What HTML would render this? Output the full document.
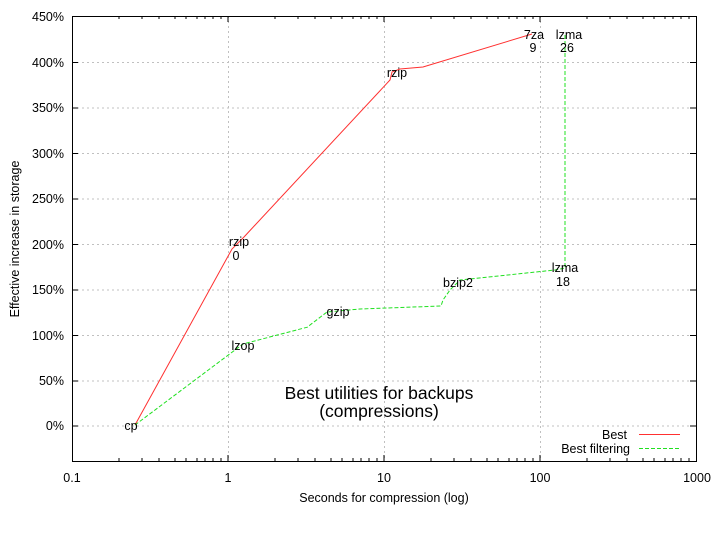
<!DOCTYPE html>
<html><head><style>body{margin:0;background:#fff}</style></head><body>
<svg width="720" height="529" xmlns="http://www.w3.org/2000/svg" font-family="Liberation Sans, sans-serif" font-size="12.5">
<rect width="720" height="529" fill="#fff"/>
<g stroke="#c0c0c0" stroke-dasharray="2,3" stroke-width="1">
<line x1="72" x2="696" y1="62.5" y2="62.5"/><line x1="72" x2="696" y1="108" y2="108"/><line x1="72" x2="696" y1="153.5" y2="153.5"/><line x1="72" x2="696" y1="199" y2="199"/><line x1="72" x2="696" y1="244.5" y2="244.5"/><line x1="72" x2="696" y1="290" y2="290"/><line x1="72" x2="696" y1="335.5" y2="335.5"/><line x1="72" x2="696" y1="381" y2="381"/><line x1="72" x2="696" y1="426" y2="426"/>
<line x1="228.5" x2="228.5" y1="16" y2="461"/><line x1="384.5" x2="384.5" y1="16" y2="461"/><line x1="540.5" x2="540.5" y1="16" y2="461"/>
</g>
<rect x="72.5" y="16.5" width="624" height="445" fill="none" stroke="#000"/>
<g text-anchor="end">
<text x="64" y="21">450%</text><text x="64" y="67">400%</text><text x="64" y="112">350%</text><text x="64" y="158">300%</text><text x="64" y="203">250%</text><text x="64" y="249">200%</text><text x="64" y="294">150%</text><text x="64" y="340">100%</text><text x="64" y="385">50%</text><text x="64" y="430">0%</text>
</g>
<g text-anchor="middle">
<text x="72" y="482">0.1</text><text x="228" y="482">1</text><text x="384" y="482">10</text><text x="540" y="482">100</text><text x="697" y="482">1000</text>
<text x="384" y="502">Seconds for compression (log)</text>
<text transform="translate(19,239) rotate(-90)">Effective increase in storage</text>
</g>
<polyline fill="none" stroke="#ff3030" stroke-width="1" points="135,425 232,249 244,237 390,80 392,72 400,69 423,67 532,34"/>
<polyline fill="none" stroke="#20e020" stroke-width="1" stroke-dasharray="4,2" points="135,425 243,344 308,327 310,325 327,312 360,309 441,306 443,300 450,290 460,280 555,270 565,268 565,34"/>
<g text-anchor="middle">
<text x="131" y="430">cp</text><text x="239" y="246">rzip</text><text x="236" y="260">0</text><text x="243" y="350">lzop</text><text x="338" y="316">gzip</text><text x="397" y="77">rzip</text><text x="458" y="287">bzip2</text><text x="565" y="272">lzma</text><text x="563" y="286">18</text><text x="534" y="39">7za</text><text x="533" y="52">9</text><text x="569" y="39">lzma</text><text x="567" y="52">26</text>
<text x="379" y="399" font-size="17.5">Best utilities for backups</text><text x="379" y="417" font-size="17.5">(compressions)</text>
</g>
<g text-anchor="end"><text x="627" y="439">Best</text><text x="630" y="453">Best filtering</text></g>
<line x1="639" x2="680" y1="434.5" y2="434.5" stroke="#ff3030"/>
<line x1="639" x2="680" y1="448.5" y2="448.5" stroke="#20e020" stroke-dasharray="4,2"/>
<path stroke="#000" fill="none" d="
M119,461v-3M142,461v-3M159,461v-3M175,461v-3M186,461v-3M197,461v-3M205,461v-3M213,461v-3M221,461v-3M228,461v-6
M275,461v-3M298,461v-3M315,461v-3M331,461v-3M342,461v-3M353,461v-3M361,461v-3M369,461v-3M377,461v-3M384,461v-6
M431,461v-3M454,461v-3M471,461v-3M487,461v-3M498,461v-3M509,461v-3M517,461v-3M525,461v-3M533,461v-3M540,461v-6
M587,461v-3M610,461v-3M627,461v-3M643,461v-3M654,461v-3M665,461v-3M673,461v-3M681,461v-3M689,461v-3
M119,16v3M142,16v3M159,16v3M175,16v3M186,16v3M197,16v3M205,16v3M213,16v3M221,16v3M228,16v6
M275,16v3M298,16v3M315,16v3M331,16v3M342,16v3M353,16v3M361,16v3M369,16v3M377,16v3M384,16v6
M431,16v3M454,16v3M471,16v3M487,16v3M498,16v3M509,16v3M517,16v3M525,16v3M533,16v3M540,16v6
M587,16v3M610,16v3M627,16v3M643,16v3M654,16v3M665,16v3M673,16v3M681,16v3M689,16v3
M72,62.5h6M72,108h6M72,153.5h6M72,199h6M72,244.5h6M72,290h6M72,335.5h6M72,381h6M72,426h6
M696,62.5h-6M696,108h-6M696,153.5h-6M696,199h-6M696,244.5h-6M696,290h-6M696,335.5h-6M696,381h-6M696,426h-6"/>
</svg>
</body></html>
